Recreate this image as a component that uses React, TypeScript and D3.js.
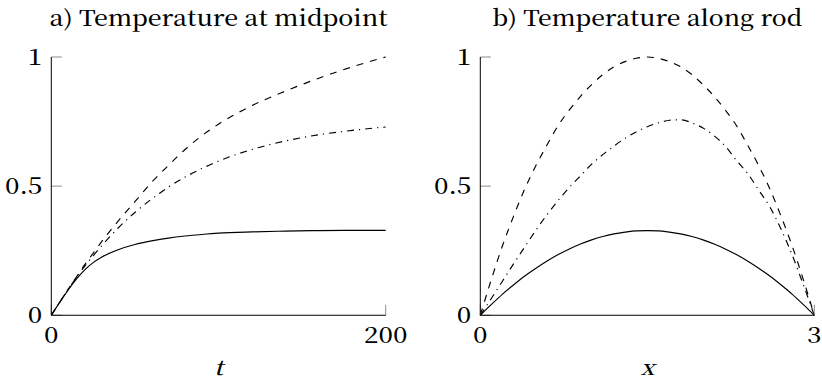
import React, { useLayoutEffect, useRef, useState } from 'react';
import * as d3 from 'd3';

// ---- Data ----
const timeValues = [0, 5, 10, 15, 20, 25, 30, 40, 50, 60, 70, 80, 90, 100, 120, 140, 160, 180, 200];
const midSolid = [0, 0.05, 0.097, 0.14, 0.176, 0.204, 0.225, 0.254, 0.274, 0.288, 0.299, 0.307, 0.313, 0.318, 0.323, 0.326, 0.328, 0.329, 0.329];
const midDashed = [0, 0.05, 0.1, 0.148, 0.196, 0.24, 0.284, 0.365, 0.44, 0.515, 0.58, 0.642, 0.695, 0.74, 0.812, 0.868, 0.918, 0.962, 1.0];
const midDashDot = [0, 0.05, 0.1, 0.146, 0.19, 0.23, 0.268, 0.338, 0.398, 0.45, 0.496, 0.535, 0.568, 0.597, 0.642, 0.675, 0.699, 0.716, 0.729];

const rodX = [0, 0.1, 0.2, 0.3, 0.4, 0.5, 0.6, 0.7, 0.8, 0.9, 1.0, 1.1, 1.2, 1.3, 1.4, 1.5,
  1.6, 1.7, 1.8, 1.9, 2.0, 2.1, 2.2, 2.3, 2.4, 2.5, 2.6, 2.7, 2.8, 2.9, 3.0];
const rodSolid = [0, 0.042, 0.082, 0.118, 0.152, 0.182, 0.21, 0.235, 0.257, 0.276, 0.292, 0.305, 0.315, 0.322, 0.327, 0.328,
  0.327, 0.322, 0.315, 0.305, 0.292, 0.276, 0.257, 0.235, 0.21, 0.182, 0.152, 0.118, 0.082, 0.042, 0];
const rodDashed = [0, 0.14, 0.27, 0.385, 0.49, 0.58, 0.66, 0.735, 0.795, 0.848, 0.893, 0.932, 0.962, 0.982, 0.995, 1.0,
  0.995, 0.982, 0.962, 0.932, 0.893, 0.848, 0.795, 0.735, 0.66, 0.58, 0.49, 0.385, 0.27, 0.14, 0];
const rodDashDot = [0, 0.066, 0.133, 0.2, 0.265, 0.33, 0.39, 0.445, 0.495, 0.54, 0.585, 0.622, 0.655, 0.685, 0.71, 0.73,
  0.745, 0.755, 0.757, 0.745, 0.725, 0.695, 0.655, 0.6, 0.55, 0.485, 0.42, 0.335, 0.235, 0.12, 0];

const yTickValues = [0, 0.5, 1];
const yTickLabels = ['0', '0.5', '1'];
const timeTicks = [0, 200];
const timeTickLabels = ['0', '200'];
const rodTicks = [0, 3];
const rodTickLabels = ['0', '3'];

const titles = ['a) Temperature at midpoint', 'b) Temperature along rod'];
const axisLabels = ['t', 'x'];

const FONT = '"Noto Serif CJK SC"';

type Panel = {
  title: string;
  titleWidth: number;
  left: number;
  right: number;
  domain: [number, number];
  xs: number[];
  series: number[][];
  ticks: number[];
  tickLabels: string[];
  xLabel: string;
};

const styles = [
  { dash: undefined as string | undefined },
  { dash: '7 7' },
  { dash: '7 5 1.2 5' },
];

function Txt(props: {
  x: number;
  y: number;
  anchor?: 'start' | 'middle' | 'end';
  size: number;
  sx: number;
  italic?: boolean;
  children: React.ReactNode;
}) {
  const { x, y, anchor = 'start', size, sx, italic = false, children } = props;
  return (
    <text
      transform={`translate(${x},${y}) scale(${sx},1)`}
      x={0}
      y={0}
      textAnchor={anchor}
      fill="#000"
      style={{ fontFamily: FONT, fontSize: size, fontWeight: 500, fontStyle: italic ? 'italic' : 'normal' }}
    >
      {children}
    </text>
  );
}

function Title({ x, y, width, text }: { x: number; y: number; width: number; text: string }) {
  const ref = useRef<SVGTextElement>(null);
  const [sx, setSx] = useState(1.1);
  useLayoutEffect(() => {
    const el = ref.current;
    if (!el) return;
    const w = el.getComputedTextLength();
    if (w > 0) setSx(width / w);
  }, [width, text]);
  return (
    <text
      ref={ref}
      transform={`translate(${x},${y}) scale(${sx},1)`}
      x={0}
      y={0}
      textAnchor="middle"
      fill="#000"
      style={{ fontFamily: FONT, fontSize: 22, fontWeight: 500 }}
    >
      {text}
    </text>
  );
}

function PanelView({ p }: { p: Panel }) {
  const yTop = 57;
  const yBot = 315.3;
  const x = d3.scaleLinear().domain(p.domain).range([p.left, p.right]);
  const y = d3.scaleLinear().domain([0, 1]).range([yBot, yTop]);
  const mid = (p.left + p.right) / 2;
  const tickLen = 10.5;

  const lineGen = d3
    .line<[number, number]>()
    .x((d) => x(d[0]))
    .y((d) => y(d[1]))
    .curve(d3.curveMonotoneX);

  return (
    <g>
      <Title x={mid} y={26} width={p.titleWidth} text={p.title} />

      {p.series.map((s, i) => (
        <path
          key={i}
          d={lineGen(p.xs.map((v, j) => [v, s[j]] as [number, number])) || ''}
          fill="none"
          stroke="#000"
          strokeWidth={1.15}
          strokeDasharray={styles[i].dash}
        />
      ))}

      {yTickValues.map((v) => (
        <line key={'yt' + v} x1={p.left} x2={p.left + tickLen} y1={y(v)} y2={y(v)} stroke="#808080" strokeWidth={0.9} />
      ))}
      {p.ticks.map((v) => (
        <line key={'xt' + v} x1={x(v)} x2={x(v)} y1={yBot} y2={yBot - tickLen} stroke="#808080" strokeWidth={0.9} />
      ))}

      <line x1={p.left} x2={p.left} y1={yTop} y2={yBot} stroke="#000" strokeWidth={1} />
      <line x1={p.left} x2={p.right} y1={yBot} y2={yBot} stroke="#000" strokeWidth={1.1} />

      {yTickValues.map((v, i) => (
        <Txt key={'yl' + v} x={p.left - 9} y={y(v) + 8} anchor="end" size={23} sx={1.12}>
          {yTickLabels[i]}
        </Txt>
      ))}
      {p.ticks.map((v, i) => (
        <Txt key={'xl' + v} x={x(v)} y={343} anchor="middle" size={23} sx={1.12}>
          {p.tickLabels[i]}
        </Txt>
      ))}

      <Txt x={mid} y={375} anchor="middle" size={21} sx={1.15} italic>
        {p.xLabel}
      </Txt>
    </g>
  );
}

export default function App() {
  const panels: Panel[] = [
    {
      title: titles[0],
      titleWidth: 338,
      left: 51.3,
      right: 385.7,
      domain: [0, 200],
      xs: timeValues,
      series: [midSolid, midDashed, midDashDot],
      ticks: timeTicks,
      tickLabels: timeTickLabels,
      xLabel: axisLabels[0],
    },
    {
      title: titles[1],
      titleWidth: 310,
      left: 480.3,
      right: 814.3,
      domain: [0, 3],
      xs: rodX,
      series: [rodSolid, rodDashed, rodDashDot],
      ticks: rodTicks,
      tickLabels: rodTickLabels,
      xLabel: axisLabels[1],
    },
  ];
  return (
    <svg
      width={822}
      height={382}
      viewBox="0 0 822 382"
      style={{ position: 'absolute', left: 0, top: 0, background: '#fff' }}
    >
      <rect width={822} height={382} fill="#fff" />
      {panels.map((p, i) => (
        <PanelView key={i} p={p} />
      ))}
    </svg>
  );
}
